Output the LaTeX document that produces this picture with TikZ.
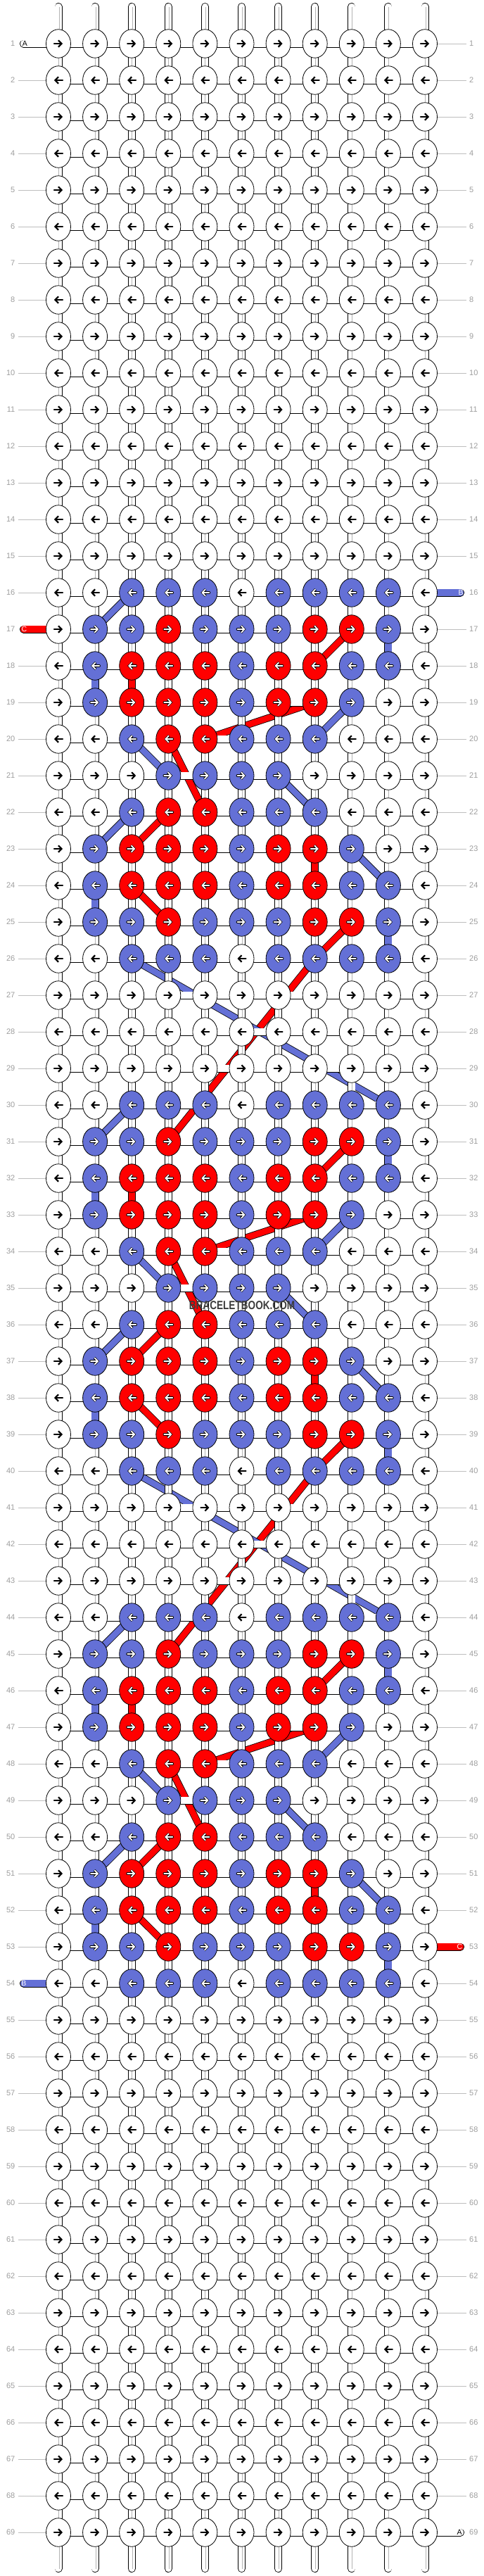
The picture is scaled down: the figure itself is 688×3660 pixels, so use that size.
\documentclass[tikz,border=0pt]{standalone}
\usepackage{fontspec}
\setmainfont{Liberation Sans}
\usetikzlibrary{shapes.geometric,arrows.meta,backgrounds,calc}
\definecolor{bbblue}{HTML}{6470D6}
\definecolor{bbred}{HTML}{FF0000}
\definecolor{numgray}{HTML}{9E9E9E}
\definecolor{linegray}{HTML}{BEBEBE}
\definecolor{threadgray}{HTML}{B4B4B4}
\definecolor{wmgray}{HTML}{3C3C3C}
\tikzset{
  knot/.style={ellipse, draw=black, line width=0.8pt, minimum width=35pt, minimum height=40.5pt, inner sep=0pt},
  arrk/.style={draw=black, line width=2.2pt, line cap=round, line join=round, -{Straight Barb[length=4.5pt,width=9.5pt]}},
  arro/.style={arrk, line width=3.6pt},
  arrw/.style={arrk, draw=white, line width=1.8pt, shorten >=0.9pt},
  conn/.style={draw=black, line width=0.8pt, double=white, double distance=9.4pt, shorten <=-3pt, shorten >=-3pt},
  vconnB/.style={conn, double=bbblue},
  vconnR/.style={conn, double=bbred},
  strand/.style={conn, line cap=round, shorten <=0pt},
  thread/.style={draw=threadgray, line width=0.9pt},
  diagB/.style={draw=black, line width=0.8pt, line join=round, double=bbblue, double distance=8.6pt},
  diagR/.style={diagB, double=bbred},
  num/.style={text=numgray, font=\fontsize{11}{13}\selectfont, inner xsep=4pt, inner ysep=0pt},
  tick/.style={draw=linegray, line width=0.9pt},
  tag/.style={font=\fontsize{10.5}{12}\selectfont, inner sep=0pt},
  wm/.style={text=wmgray, font=\fontsize{17}{20}\selectfont\bfseries, inner sep=0pt},
}
% one motif block: 0 white, 1 blue, 2 red
\def\motif{{0,0,1,1,1,0,1,1,1,1,0,%
0,1,1,2,1,1,1,2,2,1,0,%
0,1,2,2,2,1,2,2,1,1,0,%
0,1,2,2,2,1,2,2,1,0,0,%
0,0,1,2,2,1,1,1,0,0,0,%
0,0,0,1,1,1,1,0,0,0,0,%
0,0,1,2,2,1,1,1,0,0,0,%
0,1,2,2,2,1,2,2,1,0,0,%
0,1,2,2,2,1,2,2,1,1,0,%
0,1,1,2,1,1,1,2,2,1,0,%
0,0,1,1,1,0,1,1,1,1,0}}

\begin{document}
\begin{tikzpicture}[x=1pt, y=-1pt]
  \useasboundingbox (0,0) rectangle (688,3660);

  % knots
  \foreach \rw in {1,...,69} {
    \foreach \cl in {1,...,11} {
      \pgfmathsetmacro\xx{83+52.1*(\cl-1)}
      \pgfmathsetmacro\yy{62+52*(\rw-1)}
      \pgfmathtruncatemacro\kk{(\rw>15 && \rw<55) ? mod(\rw-16,14) : 99}
      \ifnum\kk>10 \def\vv{0}\else\pgfmathtruncatemacro\vv{\motif[\kk*11+\cl-1]}\fi
      \ifcase\vv \def\fc{white}\or\def\fc{bbblue}\or\def\fc{bbred}\fi
      \node[knot, fill=\fc] (k-\rw-\cl) at (\xx,\yy) {};
      \ifodd\rw \def\xa{-6}\def\xb{6}\else\def\xa{6}\def\xb{-6}\fi
      \ifnum\vv=0
        \draw[arrk] ($(k-\rw-\cl)+(\xa,0)$) -- ($(k-\rw-\cl)+(\xb,0)$);
      \else
        \draw[arro] ($(k-\rw-\cl)+(\xa,0)$) -- ($(k-\rw-\cl)+(\xb,0)$);
        \draw[arrw] ($(k-\rw-\cl)+(\xa,0)$) -- ($(k-\rw-\cl)+(\xb,0)$);
      \fi
    }
  }

  % row numbers
  \foreach \rw in {1,...,69} {
    \pgfmathsetmacro\yy{62+52*(\rw-1)}
    \node[num, anchor=east] (nl-\rw) at (25.5,\yy) {\rw};
    \node[num, anchor=west] (nr-\rw) at (663,\yy) {\rw};
  }

  \foreach \cl in {1,...,11} {
    \pgfmathsetmacro\xx{83+52.1*(\cl-1)}
    \coordinate (top-\cl) at (\xx,9.5);
    \coordinate (bot-\cl) at (\xx,3649.5);
  }
  \coordinate (sA1) at (33.5,62);
  \coordinate (sA69) at (654.5,3598);
  \coordinate (sB16) at (654.5,842);
  \coordinate (sC17) at (33.5,894);
  \coordinate (sC53) at (654.5,2766);
  \coordinate (sB54) at (33.5,2818);

  \begin{pgfonlayer}{background}
    \fill[white] (0,0) rectangle (688,3660);

    % strings carried across the rows
    \foreach \s in {16,30,44} {
      \foreach \da/\ca/\db/\cb in {0/3/1/2,3/9/4/8,4/3/5/4,5/7/6/8,6/3/7/2,7/9/8/10} {
        \pgfmathtruncatemacro\ra{\s+\da}
        \pgfmathtruncatemacro\rb{\s+\db}
        \draw[diagB] (k-\ra-\ca.center) -- (k-\rb-\cb.center);
      }
      \foreach \da/\ca/\db/\cb in {1/9/2/8,3/8/4/5,4/4/6/5,6/4/7/3,8/3/9/4} {
        \pgfmathtruncatemacro\ra{\s+\da}
        \pgfmathtruncatemacro\rb{\s+\db}
        \draw[diagR] (k-\ra-\ca.center) -- (k-\rb-\cb.center);
      }
    }
    \foreach \s in {16,30} {
      \pgfmathtruncatemacro\ra{\s+9}
      \pgfmathtruncatemacro\rb{\s+10}
      \pgfmathtruncatemacro\rc{\s+14}
      \pgfmathtruncatemacro\rd{\s+15}
      \draw[diagR] (k-\ra-9.center) -- (k-\rb-8.center) -- (k-\rd-4.center);
      \draw[diagB] (k-\rb-3.center) -- (k-\rc-10.center);
    }

    % connectors
    \foreach \rw in {1,...,69} {
      \foreach \cl in {1,...,10} {
        \pgfmathtruncatemacro\cn{\cl+1}
        \draw[conn] (k-\rw-\cl) -- (k-\rw-\cn);
      }
    }
    \foreach \rw in {1,...,68} {
      \pgfmathtruncatemacro\rn{\rw+1}
      \foreach \cl in {1,...,11} {
        \draw[conn] (k-\rw-\cl) -- (k-\rn-\cl);
        \draw[thread] ([xshift=0.5pt]k-\rw-\cl.south) -- ([xshift=0.5pt]k-\rn-\cl.north);
      }
    }
    \foreach \s in {16,30,44} {
      \foreach \d/\cl in {1/10,2/2,8/2,9/10} {
        \pgfmathtruncatemacro\ra{\s+\d}
        \pgfmathtruncatemacro\rb{\s+\d+1}
        \draw[vconnB] (k-\ra-\cl) -- (k-\rb-\cl);
      }
      \foreach \d/\cl in {2/3,7/8} {
        \pgfmathtruncatemacro\ra{\s+\d}
        \pgfmathtruncatemacro\rb{\s+\d+1}
        \draw[vconnR] (k-\ra-\cl) -- (k-\rb-\cl);
      }
    }

    % loose ends
    \foreach \cl in {1,...,11} {
      \draw[strand] (top-\cl) -- (k-1-\cl);
      \draw[thread] ([xshift=1pt]top-\cl) -- ([xshift=1pt]k-1-\cl.north);
      \draw[strand] (bot-\cl) -- (k-69-\cl);
      \draw[thread] ([xshift=1pt]bot-\cl) -- ([xshift=1pt]k-69-\cl.south);
    }
    \draw[strand] (sA1) -- (k-1-1);
    \draw[strand] (sA69) -- (k-69-11);
    \draw[strand, double=bbblue] (sB16) -- (k-16-11);
    \draw[strand, double=bbred] (sC17) -- (k-17-1);
    \draw[strand, double=bbred] (sC53) -- (k-53-11);
    \draw[strand, double=bbblue] (sB54) -- (k-54-1);

    \foreach \rw in {1,...,69} {
      \pgfmathtruncatemacro\skl{(\rw==1) || (\rw==17) || (\rw==54)}
      \pgfmathtruncatemacro\skr{(\rw==16) || (\rw==53) || (\rw==69)}
      \ifnum\skl=0 \draw[tick] (nl-\rw) -- (k-\rw-1); \fi
      \ifnum\skr=0 \draw[tick] (k-\rw-11) -- (nr-\rw); \fi
    }
  \end{pgfonlayer}

  \node[tag] (tA1) at (35.5,62) {A};
  \node[tag] (tA69) at (653,3598) {A};
  \node[tag, text=white] (tB16) at (655,842) {B};
  \node[tag, text=white] (tC17) at (34.5,894) {C};
  \node[tag, text=white] (tC53) at (653.5,2766) {C};
  \node[tag, text=white] (tB54) at (34,2818) {B};

  \node[wm] (mark) at (344,1855) {\scalebox{0.8}[1]{BRACELETBOOK.COM}};
\end{tikzpicture}
\end{document}
